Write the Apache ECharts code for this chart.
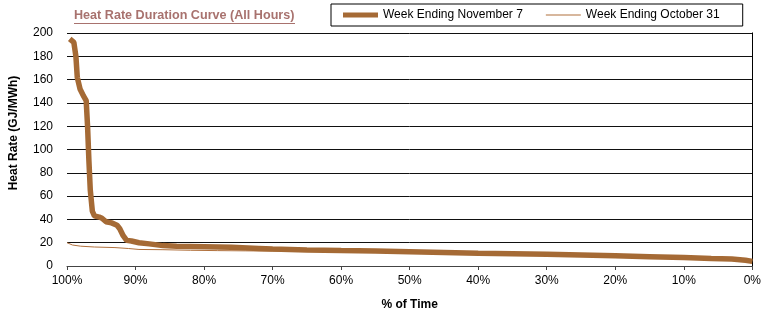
<!DOCTYPE html>
<html>
<head>
<meta charset="utf-8">
<script src="https://cdn.jsdelivr.net/npm/echarts@6/dist/echarts.min.js"></script>
<style>
  html, body { margin: 0; padding: 0; background: #fff; }
  #chart { width: 764px; height: 316px; }
</style>
</head>
<body>
<div id="chart"></div>
<script>
// Week ending November 7 (thick line) - % of time vs heat rate
var novPct  = [99.6, 99.0, 98.7, 98.5, 98.1, 97.6, 97.2, 97.0, 96.8, 96.6, 96.3, 96.0, 95.3, 94.9, 94.3, 93.5, 92.7, 92.3, 91.8, 91.3, 90.6, 89.5, 88, 86, 84, 80, 76, 72, 70, 65, 60, 55, 50, 45, 40, 35, 30, 25, 20, 15, 10, 6, 3, 1, 0];
var novRate = [195, 192, 180, 162, 152, 146, 142, 120, 90, 65, 47, 43, 42, 41, 38, 37, 35, 32, 26, 22, 21.5, 20, 19, 17.5, 17, 16.5, 16, 15, 14.5, 13.8, 13.2, 12.8, 12.2, 11.6, 11, 10.5, 10, 9.5, 8.8, 8, 7.2, 6.5, 6, 5, 4];

// Week ending October 31 (thin line)
var octPct  = [100, 99.2, 98, 96, 93, 91, 89.5, 86, 82, 78, 74, 70, 60, 50, 40, 30, 20, 10, 0];
var octRate = [20, 18, 17, 16.3, 15.8, 15, 14.2, 14, 13.5, 13.2, 13, 12.8, 12.5, 11.8, 10.6, 9.6, 8.4, 6.8, 4.5];

var seriesNames = ['Week Ending November 7', 'Week Ending October 31'];

function pairs(xs, ys) {
    var out = [];
    for (var i = 0; i < xs.length; ++i) out.push([xs[i], ys[i]]);
    return out;
}

var font = 'Arial, "Liberation Sans", sans-serif';

var option = {
    animation: false,
    backgroundColor: '#fff',
    textStyle: { fontFamily: font },
    grid: { left: 67, right: 6, top: 33, bottom: 49 },
    title: {
        text: 'Heat Rate Duration Curve (All Hours)',
        left: 74,
        top: 9,
        padding: 0,
        textStyle: { fontSize: 12.6, fontWeight: 'bold', color: '#a8726e', fontFamily: font }
    },
    legend: {
        data: [
            { name: seriesNames[0], icon: 'path://M0,0L35,0L35,5L0,5Z' },
            { name: seriesNames[1], icon: 'path://M0,0L38,0L38,1L0,1Z' }
        ],
        symbolKeepAspect: true,
        left: 331,
        top: 4,
        padding: [5, 23, 5, 12],
        itemWidth: 35,
        itemHeight: 10,
        itemGap: 23,
        borderColor: '#000',
        borderWidth: 1,
        textStyle: { fontSize: 12, color: '#000', fontFamily: font }
    },
    graphic: [
        // underline under the title
        { type: 'rect', shape: { x: 74, y: 23, width: 221, height: 1 }, style: { fill: '#a8726e' } },
        {
            type: 'text', x: 14, y: 133, rotation: Math.PI / 2,
            style: { text: 'Heat Rate (GJ/MWh)', fontSize: 12, fontWeight: 'bold', fontFamily: font,
                     fill: '#000', align: 'center', verticalAlign: 'middle' }
        }
    ],
    xAxis: {
        type: 'value',
        min: 0, max: 100, interval: 10,
        inverse: true,
        name: '% of Time',
        nameLocation: 'middle',
        nameGap: 33,
        nameTextStyle: { fontSize: 12, fontWeight: 'bold', color: '#000' },
        axisLine: { lineStyle: { color: '#444', width: 1 } },
        axisTick: { show: true, length: 4, lineStyle: { color: '#444' } },
        axisLabel: { fontSize: 12, color: '#000', margin: 9, formatter: '{value}%' },
        splitLine: { show: false }
    },
    yAxis: [
        {
            type: 'value',
            min: 0, max: 200, interval: 20,
            axisLine: { show: true, lineStyle: { color: '#888' } },
            axisTick: { show: false },
            axisLabel: { fontSize: 12, color: '#000', margin: 14 },
            splitLine: { show: true, lineStyle: { color: '#111', width: 1 } }
        },
        {
            type: 'value',
            position: 'right',
            min: 0, max: 200, interval: 20,
            axisLine: { show: true, lineStyle: { color: '#000' } },
            axisTick: { show: false },
            axisLabel: { show: false },
            splitLine: { show: false }
        }
    ],
    series: [
        {
            name: seriesNames[1],
            type: 'line',
            data: pairs(octPct, octRate),
            symbol: 'none',
            lineStyle: { color: '#b0703c', width: 1 },
            itemStyle: { color: '#b0703c' },
            z: 2
        },
        {
            name: seriesNames[0],
            type: 'line',
            data: pairs(novPct, novRate),
            symbol: 'none',
            lineStyle: { color: '#a56a35', width: 5.5 },
            itemStyle: { color: '#a56a35' },
            z: 3
        }
    ]
};

var myChart = echarts.init(document.getElementById('chart'));
myChart.setOption(option);
</script>
</body>
</html>
